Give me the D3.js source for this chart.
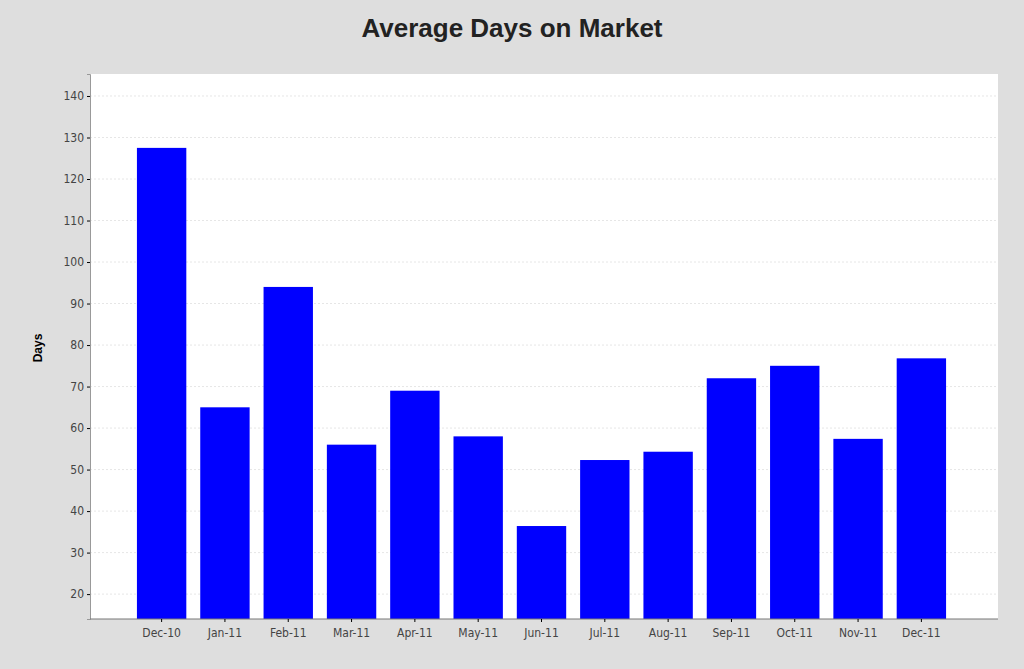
<!DOCTYPE html><html><head><meta charset="utf-8"><script src="https://cdn.jsdelivr.net/npm/d3@7"></script>
<style>body{margin:0;background:#dcdcdc;}</style></head><body><svg width="1024" height="669"></svg><script>
const categories=["Dec-10","Jan-11","Feb-11","Mar-11","Apr-11","May-11","Jun-11","Jul-11","Aug-11","Sep-11","Oct-11","Nov-11","Dec-11"];
const days=[127.5,65,94,56,69,58,36.4,52.3,54.3,72,75,57.4,76.8];
const yTicks=[20,30,40,50,60,70,80,90,100,110,120,130,140];
const svg=d3.select("svg");
svg.append("rect").attr("width",1024).attr("height",669).attr("fill","#dedede");
const L=90,R=998,T=74,B=619;
svg.append("rect").attr("x",L).attr("y",T).attr("width",R-L).attr("height",B-T).attr("fill","#fff");
const x=d3.scaleBand().domain(categories).range([123,960]).padding(0.22);
const y=d3.scaleLinear().domain([14,145.3]).range([B,T]);
svg.append("g").selectAll("line").data(yTicks).join("line").attr("x1",L).attr("x2",R)
 .attr("y1",d=>y(d)).attr("y2",d=>y(d)).attr("stroke","#e6e6e6").attr("stroke-dasharray","2,2");
svg.append("g").selectAll("rect").data(days).join("rect").attr("x",(d,i)=>x(categories[i])).attr("width",x.bandwidth())
 .attr("y",d=>y(d)).attr("height",d=>B-y(d)).attr("fill","#0000ff");
const ya=svg.append("g").attr("transform",`translate(${L},0)`).call(d3.axisLeft(y).tickValues(yTicks).tickSize(3));
ya.select(".domain").attr("stroke","#999");
ya.selectAll("text").attr("font-family","Liberation Sans Narrow, DejaVu Sans Condensed, sans-serif").attr("font-size",12).attr("fill","#444");
const xa=svg.append("g").attr("transform",`translate(0,${B})`).call(d3.axisBottom(x).tickSize(3));
xa.select(".domain").attr("d",`M${L},0H${R}`).attr("stroke","#777");
xa.selectAll("text").attr("font-family","Liberation Sans Narrow, DejaVu Sans Condensed, sans-serif").attr("font-size",12).attr("fill","#444").attr("dy","1em");
svg.append("text").attr("x",512).attr("y",37).attr("text-anchor","middle").attr("font-family","Liberation Sans, Arial, sans-serif")
 .attr("font-weight","bold").attr("font-size",26).attr("fill","#222").text("Average Days on Market");
svg.append("text").attr("transform","translate(42,348) rotate(-90)").attr("text-anchor","middle").attr("font-family","Liberation Sans, Arial, sans-serif")
 .attr("font-weight","bold").attr("font-size",12).text("Days");
</script></body></html>
